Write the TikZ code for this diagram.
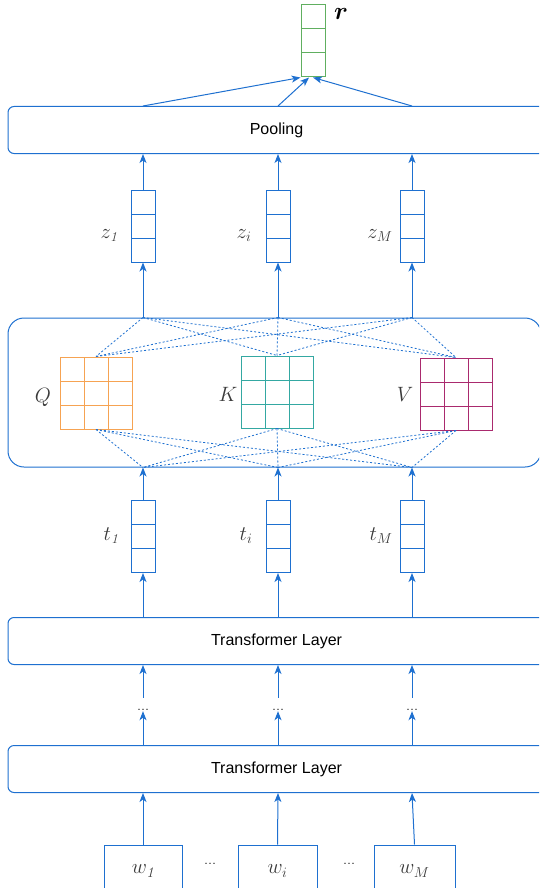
\documentclass[tikz,border=0pt]{standalone}
\usepackage{amsmath}
\usepackage{bm}
\usepackage{fontspec}
\setsansfont{Liberation Sans}
\usetikzlibrary{positioning,calc,arrows,arrows.meta}
\definecolor{lineblue}{RGB}{30,112,208}
\definecolor{labelgray}{RGB}{58,58,58}
\definecolor{qorange}{RGB}{246,163,82}
\definecolor{kteal}{RGB}{52,168,162}
\definecolor{vmagenta}{RGB}{170,42,110}
\definecolor{rgreen}{RGB}{96,175,96}
\tikzset{
	font=\small,
	vec/.style={draw=#1, line width=1pt, minimum width=24pt, minimum height=72pt, inner sep=0pt,
		path picture={
			\draw[#1, line width=1pt] ($(path picture bounding box.north west)!1/3!(path picture bounding box.south west)$) -- ($(path picture bounding box.north east)!1/3!(path picture bounding box.south east)$);
			\draw[#1, line width=1pt] ($(path picture bounding box.north west)!2/3!(path picture bounding box.south west)$) -- ($(path picture bounding box.north east)!2/3!(path picture bounding box.south east)$);
		}},
	mat/.style={draw=#1, line width=1pt, minimum size=72pt, inner sep=0pt,
		path picture={
			\draw[#1, line width=1pt] ($(path picture bounding box.north west)!1/3!(path picture bounding box.south west)$) -- ($(path picture bounding box.north east)!1/3!(path picture bounding box.south east)$);
			\draw[#1, line width=1pt] ($(path picture bounding box.north west)!2/3!(path picture bounding box.south west)$) -- ($(path picture bounding box.north east)!2/3!(path picture bounding box.south east)$);
			\draw[#1, line width=1pt] ($(path picture bounding box.north west)!1/3!(path picture bounding box.north east)$) -- ($(path picture bounding box.south west)!1/3!(path picture bounding box.south east)$);
			\draw[#1, line width=1pt] ($(path picture bounding box.north west)!2/3!(path picture bounding box.north east)$) -- ($(path picture bounding box.south west)!2/3!(path picture bounding box.south east)$);
		}},
	layer/.style={draw=lineblue, line width=1pt, rounded corners=6pt, minimum width=537pt, minimum height=47pt,
		font=\sffamily\fontsize{16}{19}\selectfont},
	word/.style={draw=lineblue, line width=1pt, minimum height=52pt, font=\fontsize{21}{25}\selectfont, text=labelgray},
	lbl/.style={text=labelgray, anchor=base, font=\fontsize{19.5}{23}\selectfont},
	gap/.style={anchor=base, inner ysep=1pt, text height=11pt, font=\fontsize{16}{19}\selectfont},
	flow/.style={draw=lineblue, line width=1pt, -{Stealth[length=9pt, width=7pt, inset=2.5pt]}},
	link/.style={draw=lineblue, line width=0.8pt, dash pattern=on 2pt off 2pt}
}

\begin{document}
\begin{tikzpicture}[x=1pt, y=-1pt]
	\useasboundingbox (0,0) rectangle (539,888);
	\clip (0,0) rectangle (539,888);
	\begin{scope}
		\tikzstyle{every node}=[align=center, inner sep=1pt]
		% pooled output
		\node[vec=rgreen] (r) at (313,41) {};
		\node[anchor=base, font=\fontsize{24}{28}\selectfont] (rlbl) at (341,20) {$\bm{r}$};
		\node[layer] (pool) at (276.5,130) {Pooling};

		% z vectors
		\node[vec=lineblue] (z1) at (143,226) {};
		\node[vec=lineblue] (zi) at (278,226) {};
		\node[vec=lineblue] (zM) at (412,226) {};
		\node[lbl] (lz1) at (109,238) {$z_{\mathit{1}}$};
		\node[lbl] (lzi) at (244,238) {$z_{i}$};
		\node[lbl] (lzM) at (380,238) {$z_{M}$};

		% attention block
		\node[draw=lineblue, line width=1pt, rounded corners=16pt, minimum width=533pt, minimum height=149pt] (attn) at (274.5,392.5) {};
		\node[mat=qorange]  (Q) at (96,393) {};
		\node[mat=kteal]    (K) at (277,392) {};
		\node[mat=vmagenta] (V) at (456,394) {};
		\node[lbl] (lQ) at (43,402) {$Q$};
		\node[lbl] (lK) at (228,401) {$K$};
		\node[lbl] (lV) at (405,401) {$V$};
		\coordinate (at1) at (attn.north -| z1);
		\coordinate (ati) at (attn.north -| zi);
		\coordinate (atM) at (attn.north -| zM);
		\coordinate (ab1) at (attn.south -| z1);
		\coordinate (abi) at (attn.south -| zi);
		\coordinate (abM) at (attn.south -| zM);

		% t vectors
		\node[vec=lineblue] (t1) at (143,536.5) {};
		\node[vec=lineblue] (ti) at (278,536.5) {};
		\node[vec=lineblue] (tM) at (412,536.5) {};
		\node[lbl] (lt1) at (111,540) {$t_{\mathit{1}}$};
		\node[lbl] (lti) at (246,540) {$t_{i}$};
		\node[lbl] (ltM) at (381,540) {$t_{M}$};

		% encoder
		\node[layer] (tl1) at (276.5,641) {Transformer Layer};
		\node[gap] (d1) at (143,710) {...};
		\node[gap] (di) at (278,710) {...};
		\node[gap] (dM) at (412,710) {...};
		\node[layer] (tl2) at (276.5,769) {Transformer Layer};

		% input words
		\node[word, minimum width=78pt] (w1) at (143,871) {$w_{\mathit{1}}$};
		\node[word, minimum width=79pt] (wi) at (277.5,871) {$w_{i}$};
		\node[word, minimum width=81pt] (wM) at (414.5,871) {$w_{M}$};
		\node[gap] (g1) at (210,864) {...};
		\node[gap] (g2) at (349,864) {...};

		\draw[flow](w1.north) -- (tl2.south -| z1);
		\draw[flow](wi.north) -- (tl2.south -| zi);
		\draw[flow](wM.north) -- (tl2.south -| zM);
		\draw[flow](tl2.north -| z1) -- (d1.south);
		\draw[flow](tl2.north -| zi) -- (di.south);
		\draw[flow](tl2.north -| zM) -- (dM.south);
		\draw[flow](d1.north) -- (tl1.south -| z1);
		\draw[flow](di.north) -- (tl1.south -| zi);
		\draw[flow](dM.north) -- (tl1.south -| zM);
		\draw[flow](tl1.north -| z1) -- (t1.south);
		\draw[flow](tl1.north -| zi) -- (ti.south);
		\draw[flow](tl1.north -| zM) -- (tM.south);
		\draw[flow](t1.north) -- (ab1);
		\draw[flow](ti.north) -- (abi);
		\draw[flow](tM.north) -- (abM);

		\draw[link](Q.south) -- (ab1);
		\draw[link](Q.south) -- (abi);
		\draw[link](Q.south) -- (abM);
		\draw[link](K.south) -- (ab1);
		\draw[link](K.south) -- (abi);
		\draw[link](K.south) -- (abM);
		\draw[link](V.south) -- (ab1);
		\draw[link](V.south) -- (abi);
		\draw[link](V.south) -- (abM);
		\draw[link](at1) -- (Q.north);
		\draw[link](at1) -- (K.north);
		\draw[link](at1) -- (V.north);
		\draw[link](ati) -- (Q.north);
		\draw[link](ati) -- (K.north);
		\draw[link](ati) -- (V.north);
		\draw[link](atM) -- (Q.north);
		\draw[link](atM) -- (K.north);
		\draw[link](atM) -- (V.north);

		\draw[flow](at1) -- (z1.south);
		\draw[flow](ati) -- (zi.south);
		\draw[flow](atM) -- (zM.south);
		\draw[flow](z1.north) -- (pool.south -| z1);
		\draw[flow](zi.north) -- (pool.south -| zi);
		\draw[flow](zM.north) -- (pool.south -| zM);
		\draw[flow](pool.north -| z1) -- (r.south west);
		\draw[flow](pool.north -| zi) -- ($(r.south)+(-4,0)$);
		\draw[flow](pool.north -| zM) -- (r.south);
	\end{scope}
\end{tikzpicture}
\end{document}
